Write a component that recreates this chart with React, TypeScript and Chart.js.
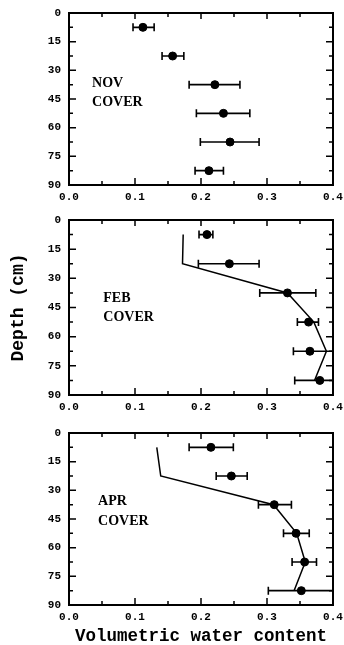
import React, { useEffect, useRef } from "react";
import { Chart, registerables } from "chart.js";

Chart.register(...registerables);

// ---- data ----
const depths = [7.5, 22.5, 37.5, 52.5, 67.5, 82.5];
const yTickValues = [0, 15, 30, 45, 60, 75, 90];
const xTickValues = [0.0, 0.1, 0.2, 0.3, 0.4];

const novMean = [0.112, 0.157, 0.221, 0.234, 0.244, 0.212];
const novLow = [0.097, 0.141, 0.182, 0.193, 0.199, 0.191];
const novHigh = [0.129, 0.174, 0.259, 0.274, 0.288, 0.234];

const febMean = [0.209, 0.243, 0.331, 0.363, 0.365, 0.38];
const febLow = [0.197, 0.196, 0.289, 0.346, 0.34, 0.342];
const febHigh = [0.218, 0.288, 0.374, 0.378, 0.41, 0.41];
const febModel = [0.173, 0.172, 0.331, 0.371, 0.39, 0.372];

const aprMean = [0.215, 0.246, 0.311, 0.344, 0.357, 0.352];
const aprLow = [0.182, 0.223, 0.287, 0.325, 0.338, 0.302];
const aprHigh = [0.249, 0.27, 0.337, 0.364, 0.375, 0.41];
const aprModel = [0.133, 0.139, 0.31, 0.345, 0.358, 0.341];

const novLabel = ["NOV", "COVER"];
const febLabel = ["FEB", "COVER"];
const aprLabel = ["APR", "COVER"];

const yTitle = "Depth (cm)";
const xTitle = "Volumetric water content";

const TICK_FONT = { family: "'Liberation Mono', 'DejaVu Sans Mono', monospace", size: 11, weight: "bold" as const };
const TITLE_FAMILY = "'Liberation Mono', 'DejaVu Sans Mono', monospace";

type Panel = {
  mean: number[];
  low: number[];
  high: number[];
  model: number[] | null;
  label: string[];
  labelX: number;
  labelY: number[];
  top: number;
  height: number;
  padTop: number;
  xAxisHeight: number;
  showYTitle: boolean;
  showXTitle: boolean;
};

const panels: Panel[] = [
  { mean: novMean, low: novLow, high: novHigh, model: null, label: novLabel, labelX: 0.035, labelY: [36.6, 47], top: 0, height: 210, padTop: 13, xAxisHeight: 25, showYTitle: false, showXTitle: false },
  { mean: febMean, low: febLow, high: febHigh, model: febModel, label: febLabel, labelX: 0.052, labelY: [40.3, 50.3], top: 210, height: 210, padTop: 10, xAxisHeight: 25, showYTitle: true, showXTitle: false },
  { mean: aprMean, low: aprLow, high: aprHigh, model: aprModel, label: aprLabel, labelX: 0.044, labelY: [35.7, 46.1], top: 420, height: 225, padTop: 13, xAxisHeight: 40, showYTitle: false, showXTitle: true },
];

function PanelChart({ p }: { p: Panel }) {
  const ref = useRef<HTMLCanvasElement | null>(null);
  useEffect(() => {
    if (!ref.current) return;

    const errorPlugin = {
      id: "errbars",
      beforeDatasetsDraw(chart: any) {
        const { ctx, chartArea: a, scales } = chart;
        const xs = scales.x, ys = scales.y;
        ctx.save();
        ctx.beginPath();
        ctx.rect(a.left, a.top, a.right - a.left, a.bottom - a.top);
        ctx.clip();
        ctx.strokeStyle = "#000";
        ctx.lineWidth = 1.6;
        ctx.beginPath();
        depths.forEach((d, i) => {
          const y = ys.getPixelForValue(d);
          const x1 = xs.getPixelForValue(p.low[i]);
          const x2 = xs.getPixelForValue(p.high[i]);
          ctx.moveTo(x1, y); ctx.lineTo(x2, y);
          ctx.moveTo(x1, y - 4); ctx.lineTo(x1, y + 4);
          ctx.moveTo(x2, y - 4); ctx.lineTo(x2, y + 4);
        });
        ctx.stroke();
        ctx.restore();
      },
    };

    const framePlugin = {
      id: "frame",
      afterDatasetsDraw(chart: any) {
        const { ctx, chartArea: a, scales } = chart;
        const xs = scales.x, ys = scales.y;
        ctx.save();
        ctx.strokeStyle = "#000";
        ctx.lineWidth = 1.5;
        ctx.beginPath();
        for (let i = 0; i < yTickValues.length; i++) {
          const v = yTickValues[i];
          const y = ys.getPixelForValue(v);
          ctx.moveTo(a.left, y); ctx.lineTo(a.left + 7, y);
          ctx.moveTo(a.right, y); ctx.lineTo(a.right - 7, y);
          if (i < yTickValues.length - 1) {
            const ym = ys.getPixelForValue((v + yTickValues[i + 1]) / 2);
            ctx.moveTo(a.left, ym); ctx.lineTo(a.left + 4, ym);
            ctx.moveTo(a.right, ym); ctx.lineTo(a.right - 4, ym);
          }
        }
        for (let i = 0; i < xTickValues.length; i++) {
          const v = xTickValues[i];
          const x = xs.getPixelForValue(v);
          ctx.moveTo(x, a.bottom); ctx.lineTo(x, a.bottom - 7);
          ctx.moveTo(x, a.top); ctx.lineTo(x, a.top + 6);
          if (i < xTickValues.length - 1) {
            const xm = xs.getPixelForValue((v + xTickValues[i + 1]) / 2);
            ctx.moveTo(xm, a.bottom); ctx.lineTo(xm, a.bottom - 4);
            ctx.moveTo(xm, a.top); ctx.lineTo(xm, a.top + 4);
          }
        }
        ctx.stroke();
        ctx.lineWidth = 2;
        ctx.strokeRect(a.left, a.top, a.right - a.left, a.bottom - a.top);

        // panel label
        ctx.fillStyle = "#000";
        ctx.font = "bold 14px 'Liberation Serif', 'DejaVu Serif', serif";
        ctx.textAlign = "left";
        ctx.textBaseline = "middle";
        p.label.forEach((t, i) => {
          ctx.fillText(t, xs.getPixelForValue(p.labelX), ys.getPixelForValue(p.labelY[i]));
        });
        ctx.restore();
      },
    };

    const datasets: any[] = [
      {
        data: depths.map((d, i) => ({ x: p.mean[i], y: d })),
        pointRadius: 4,
        pointBackgroundColor: "#000",
        pointBorderColor: "#000",
        showLine: false,
      },
    ];
    if (p.model) {
      datasets.push({
        data: depths.map((d, i) => ({ x: p.model![i], y: d })),
        showLine: true,
        pointRadius: 0,
        borderColor: "#000",
        borderWidth: 1.5,
        tension: 0,
      });
    }

    const chart = new Chart(ref.current, {
      type: "scatter",
      data: { datasets },
      plugins: [errorPlugin, framePlugin],
      options: {
        responsive: false,
        maintainAspectRatio: false,
        animation: false,
        devicePixelRatio: 1,
        layout: { padding: { top: p.padTop, right: 11, left: 0, bottom: 0 } },
        plugins: { legend: { display: false }, tooltip: { enabled: false } },
        scales: {
          x: {
            type: "linear",
            min: 0,
            max: 0.4,
            grid: { display: false, drawTicks: false },
            border: { display: false },
            ticks: {
              stepSize: 0.1,
              padding: 6,
              color: "#000",
              font: TICK_FONT,
              maxRotation: 0,
              callback: (v: any) => Number(v).toFixed(1),
            },
            title: {
              display: p.showXTitle,
              text: xTitle,
              color: "#000",
              font: { family: TITLE_FAMILY, size: 17.5, weight: "bold", lineHeight: 1 },
              padding: 0,
            },
            afterFit: (s: any) => {
              s.height = p.xAxisHeight;
              s.paddingRight = 0;
              s.paddingLeft = 0;
            },
          },
          y: {
            type: "linear",
            min: 0,
            max: 90,
            reverse: true,
            grid: { display: false, drawTicks: false },
            border: { display: false },
            ticks: {
              stepSize: 15,
              padding: 8,
              color: "#000",
              font: TICK_FONT,
              callback: (v: any) => String(v),
            },
            title: {
              display: p.showYTitle,
              text: yTitle,
              color: "#000",
              font: { family: TITLE_FAMILY, size: 18, weight: "bold", lineHeight: 1.2 },
              padding: { top: 8, bottom: 0 },
            },
            afterFit: (s: any) => {
              s.width = 69;
              s.paddingTop = 0;
              s.paddingBottom = 0;
            },
          },
        },
      } as any,
    });
    return () => chart.destroy();
  }, [p]);

  return (
    <canvas
      ref={ref}
      width={344}
      height={p.height}
      style={{ position: "absolute", left: 0, top: p.top, width: 344, height: p.height }}
    />
  );
}

export default function App() {
  return (
    <div style={{ position: "absolute", left: 0, top: 0, width: 344, height: 645, background: "#fff" }}>
      {panels.map((p, i) => (
        <PanelChart key={i} p={p} />
      ))}
    </div>
  );
}
